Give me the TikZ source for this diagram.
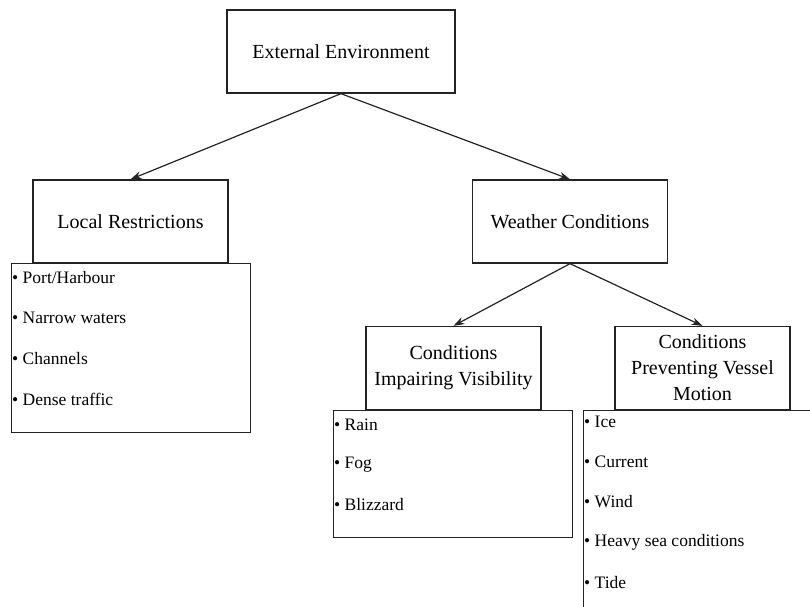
\documentclass[tikz,border=0pt]{standalone}
\usepackage{fontspec}
\setmainfont{Liberation Serif}
\usetikzlibrary{shapes,arrows,arrows.meta,positioning,calc}
\definecolor{boxline}{RGB}{35,35,35}

\begin{document}
\begin{tikzpicture}[x=1pt, y=-1pt, >={Stealth[length=11pt,width=7.5pt]},
    headbox/.style={rectangle, draw=boxline, line width=1.3pt, fill=white, align=center, font=\fontsize{20}{26}\selectfont},
    listbox/.style={rectangle, draw=boxline, line width=1.4pt, anchor=north west, minimum width=239pt},
    entry/.style={anchor=west, inner sep=0pt, font=\fontsize{17.5}{20}\selectfont}]
    \clip (0,0) rectangle (810,606);

    % Lists under the boxes
    \node[listbox, minimum height=169pt] (restlist) at (11,263) {};
    \node[listbox, minimum height=127pt] (vislist) at (333,410) {};
    \node[listbox, minimum height=212pt] (motionlist) at (583,410) {};

    % Hierarchy boxes
    \node[headbox, minimum width=228pt, minimum height=83pt] (extenv) at (341,51.5) {External Environment};
    \node[headbox, minimum width=195pt, minimum height=83pt] (local) at (130.5,221.5) {Local Restrictions};
    \node[headbox, minimum width=195pt, minimum height=83pt] (weather) at (570,221.5) {Weather Conditions};
    \node[headbox, minimum width=175pt, minimum height=83pt] (visib) at (453.5,368) {Conditions\\Impairing Visibility};
    \node[headbox, minimum width=175pt, minimum height=83pt] (motion) at (702.5,368) {Conditions\\Preventing Vessel\\Motion};

    % Items
    \node[entry] (port) at (12,278) {\textbullet{} Port/Harbour};
    \node[entry] (narrow) at (12,318) {\textbullet{} Narrow waters};
    \node[entry] (channels) at (12,359) {\textbullet{} Channels};
    \node[entry] (dense) at (12,399) {\textbullet{} Dense traffic};

    \node[entry] (rain) at (334,425) {\textbullet{} Rain};
    \node[entry] (fog) at (334,465) {\textbullet{} Fog};
    \node[entry] (blizzard) at (334,505) {\textbullet{} Blizzard};

    \node[entry] (ice) at (584,422) {\textbullet{} Ice};
    \node[entry] (current) at (584,462) {\textbullet{} Current};
    \node[entry] (wind) at (584,502) {\textbullet{} Wind};
    \node[entry] (heavysea) at (584,542) {\textbullet{} Heavy sea conditions};
    \node[entry] (tide) at (584,582) {\textbullet{} Tide};

    % Connectors
    \draw[->, line width=1.2pt, boxline] (extenv.south) -- (local.north);
    \draw[->, line width=1.2pt, boxline] (extenv.south) -- (weather.north);
    \draw[->, line width=1.2pt, boxline] (weather.south) -- (visib.north);
    \draw[->, line width=1.2pt, boxline] (weather.south) -- (motion.north);
\end{tikzpicture}
\end{document}
